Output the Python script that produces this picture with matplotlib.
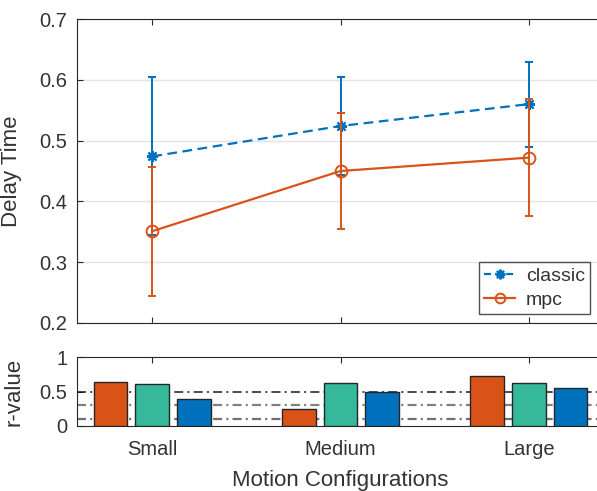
import numpy as np
import matplotlib
matplotlib.use("Agg")
import matplotlib.pyplot as plt
from matplotlib.lines import Line2D

plt.rcParams['font.family'] = ['Liberation Sans', 'DejaVu Sans']
plt.rcParams['lines.scale_dashes'] = False

# Motion configuration categories
categories = ["Small", "Medium", "Large"]

# Delay time means and symmetric error half-widths
classic_mean = [0.474, 0.524, 0.560]
classic_err = [0.130, 0.080, 0.070]
mpc_mean = [0.351, 0.450, 0.472]
mpc_err = [0.106, 0.096, 0.096]

# r-values per configuration (three measures)
r_orange = [0.64, 0.25, 0.73]
r_green = [0.61, 0.625, 0.625]
r_blue = [0.39, 0.49, 0.55]

# Reference thresholds for r-value
r_thresholds = [0.5, 0.3, 0.1]
r_threshold_colors = ["#1a1a1a", "#808080", "#707070"]

BLUE = "#0072BD"
ORANGE = "#D95319"
GREEN = "#35B99A"
AXC = "#262626"
TXT = "#333333"
ASTERISK = (8, 2, 0)

W, H = 597, 491
fig = plt.figure(figsize=(W / 100, H / 100), dpi=100)

x = np.arange(1, len(categories) + 1)
left = 77 / W
width = 527 / W

# ---- top panel: delay time ----
ax = fig.add_axes([left, (H - 323) / H, width, (323 - 19) / H])
ax.errorbar(x, classic_mean, yerr=classic_err, color=BLUE, ls='-', lw=1.6,
            dashes=(7, 4), marker=ASTERISK, ms=8, mew=1.5, capsize=3,
            elinewidth=1.4, zorder=3)
ax.errorbar(x, mpc_mean, yerr=mpc_err, color=ORANGE, ls='-', lw=1.6,
            marker='o', ms=8.5, mfc='none', mew=1.4, capsize=3, elinewidth=1.4,
            zorder=4)
ax.set_xlim(0.6, 3.4)
ax.set_ylim(0.2, 0.7)
ax.set_xticks(x)
ax.set_xticklabels([])
ax.set_yticks(np.arange(0.2, 0.71, 0.1))
ax.yaxis.grid(True, color='#e3e3e3', lw=1)
ax.set_axisbelow(True)
ax.tick_params(direction='in', top=True, right=True, colors=AXC,
               labelsize=14.5, length=4, pad=7)
ax.tick_params(axis='y', labelcolor=TXT)
ax.set_ylabel('Delay Time', fontsize=16, color=TXT)
ax.yaxis.set_label_coords(-0.104, 0.5)
for s in ax.spines.values():
    s.set_color(AXC)

handles = [
    Line2D([], [], color=BLUE, lw=1.6, dashes=(5, 3), marker=ASTERISK,
           ms=7, mew=1.5),
    Line2D([], [], color=ORANGE, lw=1.6, marker='o', ms=7, mfc='none', mew=1.4),
]
leg = ax.legend(handles, ['classic', 'mpc'], loc='lower right',
                bbox_to_anchor=((590 - 77) / 527, (323 - 314) / 304),
                bbox_transform=ax.transAxes,
                fontsize=14, frameon=True, fancybox=False, handlelength=1.6,
                borderpad=0.25, labelspacing=0.35, handletextpad=0.55,
                borderaxespad=0.0)
leg.get_frame().set_edgecolor(AXC)
leg.get_frame().set_linewidth(1.0)
for t in leg.get_texts():
    t.set_color(TXT)

# ---- bottom panel: r-values ----
bx = fig.add_axes([left, (H - 425.7) / H, width, 68.3 / H])
off = 0.222
bw = 0.18
for vals, dx, col in [(r_orange, -off, ORANGE), (r_green, 0, GREEN), (r_blue, off, BLUE)]:
    bx.bar(x + dx, vals, width=bw, color=col, edgecolor=AXC, lw=1.0, zorder=3)
for yv, col in zip(r_thresholds, r_threshold_colors):
    bx.axhline(yv, color=col, ls='-', dashes=(6.5, 3, 1.5, 3),
               lw=1.1 if yv == 0.5 else 1.6, zorder=2)
bx.set_xlim(0.6, 3.4)
bx.set_ylim(0, 1)
bx.set_yticks([0, 0.5, 1])
bx.set_yticklabels(['0', '0.5', '1'])
bx.set_xticks(x)
bx.set_xticklabels(categories)
bx.tick_params(direction='in', top=True, right=True, colors=AXC,
               labelsize=14.5, length=4, pad=7)
bx.tick_params(labelcolor=TXT)
bx.tick_params(axis='x', pad=10)
bx.set_ylabel('r-value', fontsize=16, color=TXT)
bx.yaxis.set_label_coords(-0.099, 0.5)
bx.set_xlabel('Motion Configurations', fontsize=16, color=TXT, labelpad=8)
for s in bx.spines.values():
    s.set_color(AXC)

fig.savefig('out.png', dpi=100)
